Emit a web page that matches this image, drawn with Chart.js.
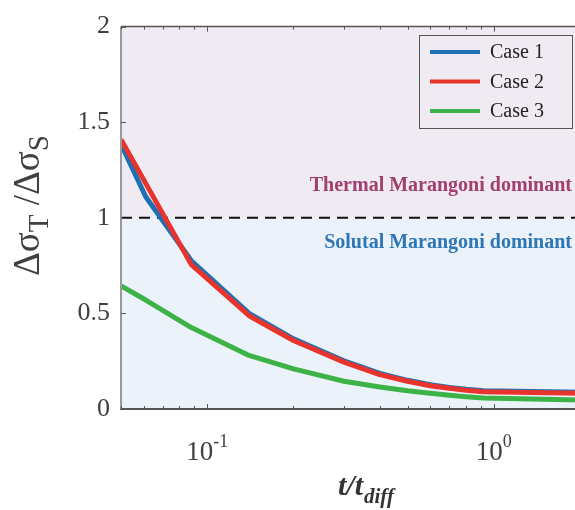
<!DOCTYPE html>
<html><head><meta charset="utf-8">
<script src="https://cdn.jsdelivr.net/npm/chart.js@4"></script>
<style>
html,body{margin:0;padding:0;overflow:hidden;background:#fff;width:575px;height:510px}
#wrap{width:580px;height:510px;position:relative}
</style></head>
<body><div id="wrap"><canvas id="c" width="580" height="510"></canvas></div>
<script>
// ---- data ----
const tValues = [0.05, 0.061, 0.088, 0.14, 0.2, 0.3, 0.4, 0.5, 0.6, 0.7, 0.8, 0.92, 2];
const case1 = [1.385, 1.11, 0.775, 0.50, 0.367, 0.252, 0.186, 0.150, 0.127, 0.113, 0.103, 0.095, 0.088];
const case2 = [1.41, 1.18, 0.755, 0.488, 0.358, 0.245, 0.180, 0.145, 0.122, 0.108, 0.098, 0.090, 0.083];
const case3 = [0.644, 0.57, 0.426, 0.28, 0.21, 0.145, 0.115, 0.095, 0.082, 0.072, 0.064, 0.057, 0.047];
const seriesNames = ['Case 1', 'Case 2', 'Case 3'];
const seriesColors = ['#1f6fb5', '#e8342c', '#3db347'];
const thresholdValue = 1;
const xRange = [0.05, 2];
const yTickValues = [0, 0.5, 1, 1.5, 2];
const xMajorTicks = [0.1, 1];
const xMinorTicks = [0.05, 0.06, 0.07, 0.08, 0.09, 0.2, 0.3, 0.4, 0.5, 0.6, 0.7, 0.8, 0.9, 2];
const xTickBase = ['10', '10'];
const xTickExp = ['-1', '0'];
const regionLabels = ['Thermal Marangoni dominant', 'Solutal Marangoni dominant'];
const regionLabelValues = [1.165, 0.87];
const regionColors = ['#a13f6f', '#2f76b5'];
const regionFills = ['#f0eaf2', '#ebf2f9'];

const TXT = '#404040';

function pts(arr) { return tValues.map((t, i) => ({x: t, y: arr[i]})); }

const decor = {
  id: 'decor',
  beforeDatasetsDraw(chart) {
    const {ctx, chartArea: a, scales: {y}} = chart;
    const yT = y.getPixelForValue(thresholdValue);
    ctx.save();
    ctx.fillStyle = regionFills[0];
    ctx.fillRect(a.left, a.top, a.right - a.left, yT - a.top);
    ctx.fillStyle = regionFills[1];
    ctx.fillRect(a.left, yT, a.right - a.left, a.bottom - yT);
    ctx.restore();
  },
  afterDatasetsDraw(chart) {
    const {ctx, chartArea: a, scales: {x, y}} = chart;
    ctx.save();
    // region labels
    ctx.font = 'bold 20px "Liberation Serif"';
    ctx.textAlign = 'right';
    ctx.textBaseline = 'middle';
    regionLabels.forEach((s, i) => {
      ctx.fillStyle = regionColors[i];
      ctx.fillText(s, a.right - 8, y.getPixelForValue(regionLabelValues[i]));
    });
    // axes lines
    ctx.strokeStyle = '#555';
    ctx.lineWidth = 1.5;
    ctx.beginPath(); ctx.moveTo(a.left, a.top); ctx.lineTo(a.right, a.top); ctx.stroke();
    ctx.lineWidth = 2;
    ctx.beginPath(); ctx.moveTo(a.left - 1, a.bottom); ctx.lineTo(a.right, a.bottom); ctx.stroke();
    ctx.strokeStyle = '#999';
    ctx.beginPath(); ctx.moveTo(a.left, a.top); ctx.lineTo(a.left, a.bottom); ctx.stroke();
    // ticks inward
    ctx.strokeStyle = '#555';
    ctx.lineWidth = 1;
    const tick = (v, len) => {
      const px = Math.round(x.getPixelForValue(v)) + 0.5;
      ctx.beginPath();
      ctx.moveTo(px, a.bottom); ctx.lineTo(px, a.bottom - len);
      ctx.moveTo(px, a.top); ctx.lineTo(px, a.top + len);
      ctx.stroke();
    };
    xMinorTicks.forEach(v => tick(v, 3));
    xMajorTicks.forEach(v => tick(v, 5));
    yTickValues.forEach(v => {
      const py = Math.round(y.getPixelForValue(v)) + 0.5;
      ctx.beginPath(); ctx.moveTo(a.left, py); ctx.lineTo(a.left + 5, py); ctx.stroke();
    });
    // x tick labels with superscripts
    ctx.fillStyle = TXT;
    ctx.textAlign = 'left';
    ctx.textBaseline = 'alphabetic';
    xMajorTicks.forEach((v, i) => {
      ctx.font = '27px "Liberation Serif"';
      const wb = ctx.measureText(xTickBase[i]).width;
      ctx.font = '18px "Liberation Serif"';
      const we = ctx.measureText(xTickExp[i]).width;
      const cx = x.getPixelForValue(v);
      const x0 = cx - (wb + we) / 2;
      ctx.font = '27px "Liberation Serif"';
      ctx.fillText(xTickBase[i], x0, 460);
      ctx.font = '18px "Liberation Serif"';
      ctx.fillText(xTickExp[i], x0 + wb, 447);
    });
    // x title
    ctx.fillStyle = '#333';
    ctx.font = 'italic bold 30px "Liberation Serif"';
    ctx.fillText('t/t', 338, 495);
    const wt = ctx.measureText('t/t').width;
    ctx.font = 'italic bold 21px "Liberation Serif"';
    ctx.fillText('diff', 338 + wt + 1, 503);
    // y title (rotated)
    ctx.save();
    ctx.translate(39, 276);
    ctx.rotate(-Math.PI / 2);
    ctx.fillStyle = TXT;
    const parts = [['Δσ', 37, 0], ['T', 29, 9], [' /Δσ', 37, 0], ['S', 29, 9]];
    let ux = 0;
    parts.forEach(([s, sz, dy]) => {
      ctx.font = sz + 'px "Liberation Serif"';
      ctx.fillText(s, ux, dy);
      ux += ctx.measureText(s).width;
    });
    ctx.restore();
    // legend
    const lx = 419, ly = 35, lw = 153, lh = 93;
    ctx.fillStyle = regionFills[0];
    ctx.fillRect(lx, ly, lw, lh);
    ctx.strokeStyle = '#555';
    ctx.lineWidth = 1;
    ctx.strokeRect(lx + 0.5, ly + 0.5, lw, lh);
    ctx.font = '20px "Liberation Serif"';
    ctx.textBaseline = 'middle';
    chart.data.datasets.filter(d => d.label).forEach((d, i) => {
      const yy = 52 + i * 29.5;
      ctx.strokeStyle = d.borderColor;
      ctx.lineWidth = 4;
      ctx.beginPath(); ctx.moveTo(430, yy); ctx.lineTo(480, yy); ctx.stroke();
      ctx.fillStyle = '#222';
      ctx.fillText(d.label, 490, yy + 1);
    });
    ctx.restore();
  }
};

new Chart(document.getElementById('c'), {
  type: 'line',
  data: {
    datasets: [
      {label: seriesNames[0], data: pts(case1), borderColor: seriesColors[0], borderWidth: 5, order: 2},
      {label: seriesNames[1], data: pts(case2), borderColor: seriesColors[1], borderWidth: 5, order: 1},
      {label: seriesNames[2], data: pts(case3), borderColor: seriesColors[2], borderWidth: 5, order: 3},
      {label: '', data: xRange.map(v => ({x: v, y: thresholdValue})), borderColor: '#111', borderWidth: 2, borderDash: [11, 7], order: 4}
    ]
  },
  options: {
    responsive: false,
    animation: false,
    devicePixelRatio: 1,
    layout: {padding: {top: 24, right: 0, left: 0, bottom: 0}},
    elements: {point: {radius: 0}, line: {tension: 0, borderCapStyle: 'butt', borderJoinStyle: 'round'}},
    plugins: {legend: {display: false}, tooltip: {enabled: false}},
    scales: {
      x: {
        type: 'logarithmic', min: xRange[0], max: xRange[1],
        grid: {display: false, drawTicks: false}, border: {display: false},
        ticks: {display: false},
        afterFit(s) { s.height = 101; }
      },
      y: {
        min: 0, max: 2,
        grid: {display: false, drawTicks: false}, border: {display: false},
        afterBuildTicks(s) { s.ticks = yTickValues.map(v => ({value: v})); },
        ticks: {
          font: {family: 'Liberation Serif', size: 26}, color: TXT, padding: 11,
          callback: v => String(v)
        },
        afterFit(s) { s.width = 121; }
      }
    }
  },
  plugins: [decor]
});
</script>
</body></html>
